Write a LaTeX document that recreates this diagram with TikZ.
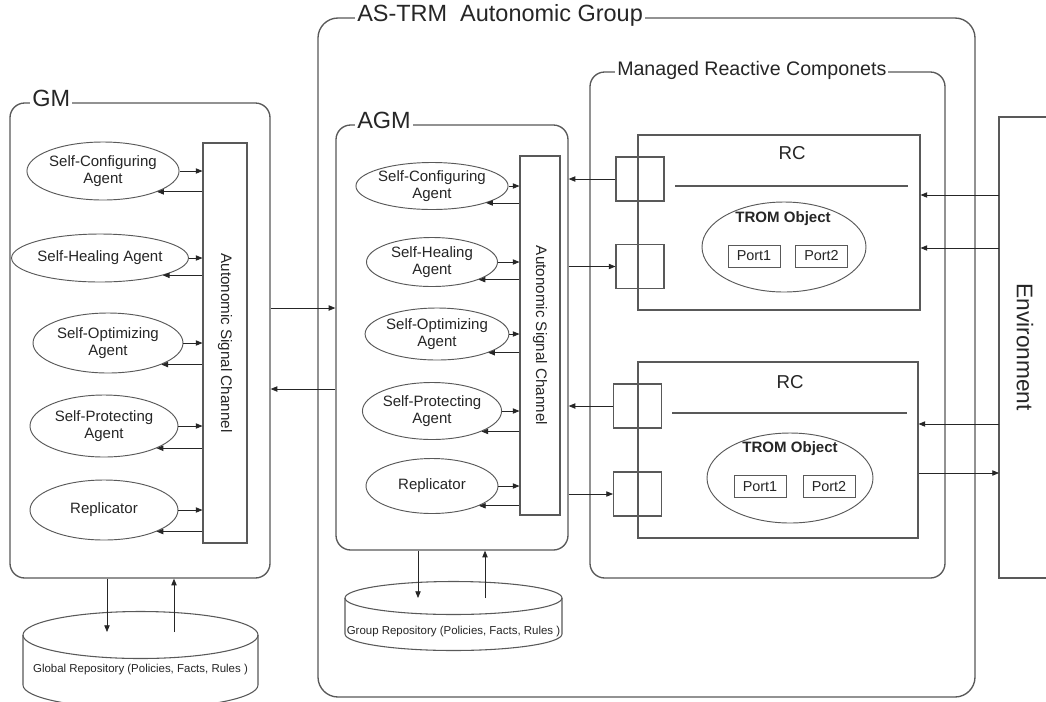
\documentclass[tikz,border=0pt]{standalone}
\usepackage{fontspec}
\setmainfont{Liberation Sans}
\usetikzlibrary{shapes.geometric}
\usetikzlibrary{arrows.meta}
\newcommand{\pxu}{0.75pt}
\definecolor{framegray}{gray}{0.35}
\definecolor{inkgray}{gray}{0.15}

\begin{document}
\begin{tikzpicture}[x=0.75pt,y=-0.75pt,
  groupbox/.style 2 args={draw=framegray,line width=1pt,rounded corners=11pt,minimum width=#1*\pxu,minimum height=#2*\pxu,inner sep=0pt},
  plainbox/.style 2 args={draw=framegray,line width=0.8pt,minimum width=#1*\pxu,minimum height=#2*\pxu,inner sep=0pt},
  agent/.style 2 args={ellipse,draw=framegray,line width=0.7pt,minimum width=#1*\pxu,minimum height=#2*\pxu,inner sep=0pt,align=center,text=inkgray,font={\fontsize{11.25}{12.75}\selectfont}},
  grouptitle/.style={fill=white,inner sep=1.5pt,anchor=mid west,text=inkgray},
  sqport/.style={draw=framegray,line width=0.8pt,minimum width=36pt,minimum height=33pt,inner sep=0pt},
  pinbox/.style={draw=framegray,line width=0.7pt,minimum width=39pt,minimum height=16.5pt,inner sep=0pt,text=inkgray,font={\fontsize{10.8}{12}\selectfont}},
  sig/.style={-{Triangle[length=5pt,width=4pt]},line width=0.6pt,draw=inkgray},
  cyl/.style={draw=framegray,line width=0.8pt},
]
\useasboundingbox (0,0) rectangle (1046,701);
\clip (0,0) rectangle (1046,701);
\fill[white] (0,0) rectangle (1046,701);

% outer groups
\node[groupbox={260}{475}] (gm) at (140,340.5) {};
\node[groupbox={657}{679},rounded corners=15pt] (astrm) at (646.5,357.5) {};
\node[groupbox={355}{506}] (mrc) at (767.5,325) {};
\node[groupbox={232}{425}] (agm) at (452,337.5) {};
\node[grouptitle,font={\fontsize{17.6}{20}\selectfont}] (gmtitle) at (30,103) {GM};
\node[grouptitle,font={\fontsize{17.6}{20}\selectfont}] (astrmtitle) at (355,18) {AS-TRM~~Autonomic Group};
\node[grouptitle,font={\fontsize{14.7}{17}\selectfont}] (mrctitle) at (615,72) {Managed Reactive Componets};
\node[grouptitle,font={\fontsize{17.6}{20}\selectfont}] (agmtitle) at (355,125) {AGM};

% signal channels
\node[plainbox={44}{400}] (gasc) at (225,343) {};
\node[rotate=-90,text=inkgray,font={\fontsize{11.4}{13}\selectfont}] (gasclabel) at (gasc.center) {Autonomic Signal Channel};
\node[plainbox={40}{359}] (aasc) at (540,335.5) {};
\node[rotate=-90,text=inkgray,font={\fontsize{11.4}{13}\selectfont}] (aasclabel) at (aasc.center) {Autonomic Signal Channel};

% GM agents
\node[agent={149}{58}] (gconf) at (103,171) {Self-Configuring\\Agent};
\node[agent={158}{48}] (gheal) at (100,258) {Self-Healing Agent};
\node[agent={150}{60}] (gopt) at (108,343) {Self-Optimizing\\Agent};
\node[agent={148}{62}] (gprot) at (104,426) {Self-Protecting\\Agent};
\node[agent={148}{60}] (grepl) at (104,510) {Replicator};

\draw[sig] (gconf.east) -- (gconf.east -| gasc.west);
\draw[sig] (gconf.south east -| gasc.west) -- (gconf.south east);
\draw[sig] (gheal.east) -- (gheal.east -| gasc.west);
\draw[sig] (gheal.south east -| gasc.west) -- (gheal.south east);
\draw[sig] (gopt.east) -- (gopt.east -| gasc.west);
\draw[sig] (gopt.south east -| gasc.west) -- (gopt.south east);
\draw[sig] (gprot.east) -- (gprot.east -| gasc.west);
\draw[sig] (gprot.south east -| gasc.west) -- (gprot.south east);
\draw[sig] (grepl.east) -- (grepl.east -| gasc.west);
\draw[sig] (grepl.south east -| gasc.west) -- (grepl.south east);

% AGM agents
\node[agent={132}{47}] (aconf) at (432,186) {Self-Configuring\\Agent};
\node[agent={131}{49}] (aheal) at (432,262) {Self-Healing\\Agent};
\node[agent={133}{52}] (aopt) at (437,334) {Self-Optimizing\\Agent};
\node[agent={132}{57}] (aprot) at (432,411) {Self-Protecting\\Agent};
\node[agent={132}{55}] (arepl) at (432,486) {Replicator};

\draw[sig] (aconf.east) -- (aconf.east -| aasc.west);
\draw[sig] (aconf.south east -| aasc.west) -- (aconf.south east);
\draw[sig] (aheal.east) -- (aheal.east -| aasc.west);
\draw[sig] (aheal.south east -| aasc.west) -- (aheal.south east);
\draw[sig] (aopt.east) -- (aopt.east -| aasc.west);
\draw[sig] (aopt.south east -| aasc.west) -- (aopt.south east);
\draw[sig] (aprot.east) -- (aprot.east -| aasc.west);
\draw[sig] (aprot.south east -| aasc.west) -- (aprot.south east);
\draw[sig] (arepl.east) -- (arepl.east -| aasc.west);
\draw[sig] (arepl.south east -| aasc.west) -- (arepl.south east);

% GM <-> AGM
\coordinate (gmout) at (0,308);
\coordinate (gmin) at (0,389);
\draw[sig] (gm.east |- gmout) -- (agm.west |- gmout);
\draw[sig] (agm.west |- gmin) -- (gm.east |- gmin);

% reactive components
\node[plainbox={282}{175}] (rc1) at (779,222.5) {};
\node[text=inkgray,font={\fontsize{14}{16}\selectfont}] (rc1title) at (792,153) {RC};
\draw[framegray,line width=0.8pt] (675,186) -- (908,186);
\node[ellipse,draw=framegray,line width=0.7pt,minimum width=123pt,minimum height=67.5pt,inner sep=0pt] (trom1) at (784,247) {};
\node[text=inkgray,font={\bfseries\fontsize{11.3}{13}\selectfont}] (trom1label) at (783,219) {TROM Object};
\node[pinbox] (rc1pin1) at (754,256) {Port1};
\node[pinbox] (rc1pin2) at (821.5,256) {Port2};

\node[plainbox={280}{176}] (rc2) at (778,450) {};
\node[text=inkgray,font={\fontsize{14}{16}\selectfont}] (rc2title) at (790,382) {RC};
\draw[framegray,line width=0.8pt] (672,413) -- (907,413);
\node[ellipse,draw=framegray,line width=0.7pt,minimum width=124.5pt,minimum height=67.5pt,inner sep=0pt] (trom2) at (790,478) {};
\node[text=inkgray,font={\bfseries\fontsize{11.3}{13}\selectfont}] (trom2label) at (790,449) {TROM Object};
\node[pinbox] (rc2pin1) at (760,486.5) {Port1};
\node[pinbox] (rc2pin2) at (829,486.5) {Port2};

\node[sqport] (g1a) at (640,179) {};
\node[sqport] (g1b) at (640,266.5) {};
\node[sqport] (g2a) at (637.5,406) {};
\node[sqport] (g2b) at (637.5,494) {};
\draw[sig] (g1a.west) -- (g1a.west -| agm.east);
\draw[sig] (g1b.west -| agm.east) -- (g1b.west);
\draw[sig] (g2a.west) -- (g2a.west -| agm.east);
\draw[sig] (g2b.west -| agm.east) -- (g2b.west);

% environment
\node[plainbox={61}{461}] (env) at (1029.5,347.5) {};
\node[rotate=-90,text=inkgray,font={\fontsize{17}{20}\selectfont}] (envlabel) at (1025,347) {Environment};
\coordinate (e1) at (999,195);
\coordinate (e2) at (999,248);
\coordinate (e3) at (999,424);
\coordinate (e4) at (999,473);
\draw[sig] (e1) -- (e1 -| rc1.east);
\draw[sig] (e2) -- (e2 -| rc1.east);
\draw[sig] (e3) -- (e3 -| rc2.east);
\draw[sig] (e4 -| rc2.east) -- (e4);

% repositories
\draw[cyl] (140.5,635) ellipse [x radius=117.5*\pxu, y radius=23.5*\pxu];
\draw[cyl] (23,635) -- (23,685) arc [start angle=180, end angle=360, x radius=117.5*\pxu, y radius=23.5*\pxu] -- (258,635);
\node[text=inkgray,font={\fontsize{8.6}{10}\selectfont}] (globalrepo) at (140.5,670) {Global Repository (Policies, Facts, Rules )};
\draw[cyl] (453.5,598) ellipse [x radius=108.5*\pxu, y radius=16.5*\pxu];
\draw[cyl] (345,598) -- (345,634) arc [start angle=180, end angle=360, x radius=108.5*\pxu, y radius=16.5*\pxu] -- (562,598);
\node[text=inkgray,font={\fontsize{8.6}{10}\selectfont}] (grouprepo) at (453.5,632) {Group Repository (Policies, Facts, Rules )};

\coordinate (gdown) at (107,632);
\coordinate (gup) at (174,632);
\draw[sig] (gm.south -| gdown) -- (gdown);
\draw[sig] (gup) -- (gm.south -| gup);
\coordinate (adown) at (418,598);
\coordinate (aup) at (485,598);
\draw[sig] (agm.south -| adown) -- (adown);
\draw[sig] (aup) -- (agm.south -| aup);

\end{tikzpicture}
\end{document}
